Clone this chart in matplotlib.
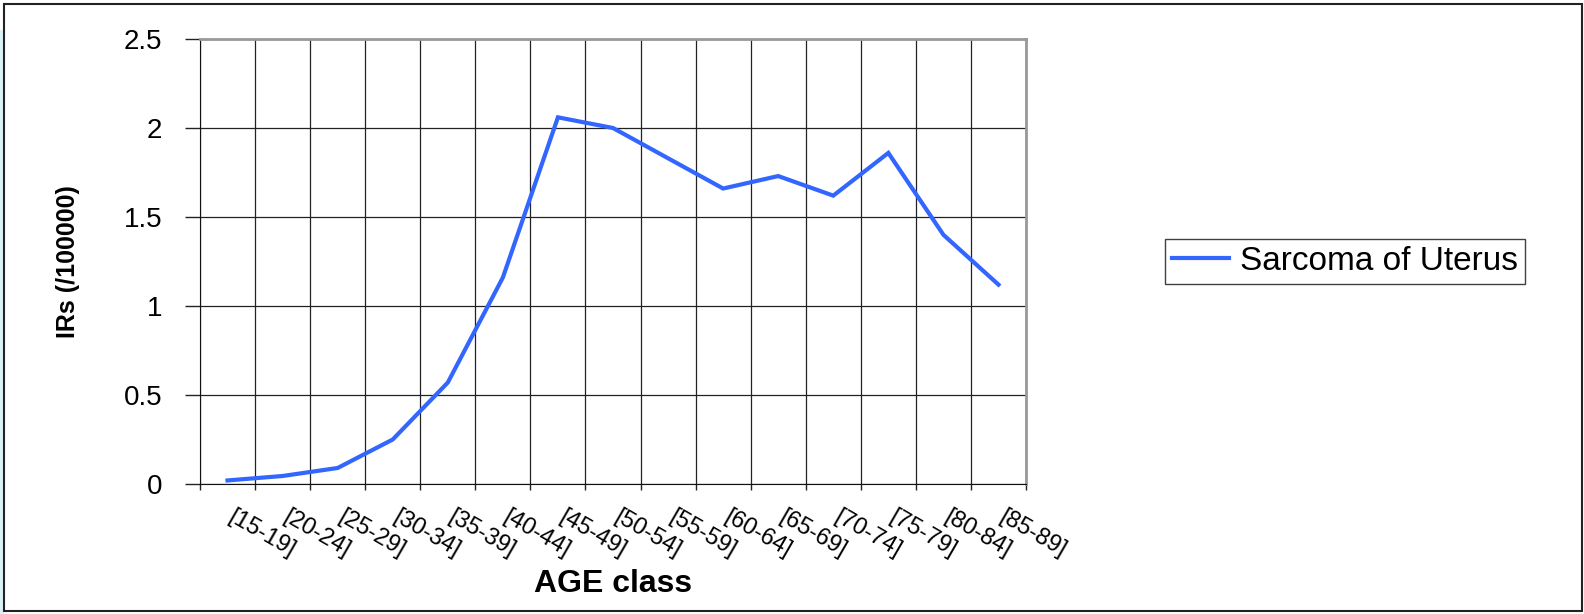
import numpy as np
import matplotlib
matplotlib.use('Agg')
import matplotlib.pyplot as plt
import matplotlib.transforms as mtransforms
from matplotlib.patches import Rectangle

# Datos
clases_edad = ['[15-19]', '[20-24]', '[25-29]', '[30-34]', '[35-39]', '[40-44]', '[45-49]', '[50-54]',
               '[55-59]', '[60-64]', '[65-69]', '[70-74]', '[75-79]', '[80-84]', '[85-89]']
tasas = [0.02, 0.045, 0.09, 0.25, 0.57, 1.16, 2.06, 2.0, 1.83, 1.66, 1.73, 1.62, 1.86, 1.40, 1.12]
serie = 'Sarcoma of Uterus'
y_ticks = [0, 0.5, 1, 1.5, 2, 2.5]
y_tick_labels = ['0', '0.5', '1', '1.5', '2', '2.5']

plt.rcParams['font.family'] = ['Liberation Sans', 'DejaVu Sans']

fig = plt.figure(figsize=(15.84, 6.14), dpi=100)
ax = fig.add_axes([200 / 1584, 1 - 484 / 614, 826 / 1584, 445 / 614])

x = np.arange(len(clases_edad))
ax.plot(x, tasas, color='#3366ff', linewidth=3, label=serie, solid_joinstyle='miter')

# Ejes
ax.set_xlim(-0.5, len(clases_edad) - 0.5)
ax.set_ylim(0, 2.5)
ax.set_yticks(y_ticks)
ax.set_yticklabels(y_tick_labels, fontsize=20)
ax.tick_params(axis='y', length=11, width=1, pad=16, color='#222222')

# Lineas de division entre clases (ticks mayores) y etiquetas en el centro (ticks menores)
ax.set_xticks(np.arange(len(clases_edad) + 1) - 0.5)
ax.set_xticklabels([])
ax.set_xticks(x, minor=True)
ax.set_xticklabels(clases_edad, minor=True, fontsize=17, rotation=-30,
                   ha='left', va='top', rotation_mode='anchor')
ax.tick_params(axis='x', which='major', length=4, width=1, color='#222222')
ax.tick_params(axis='x', which='minor', length=0, pad=16)
desplazamiento = mtransforms.ScaledTranslation(8 / 100, 0, fig.dpi_scale_trans)
for etiqueta in ax.get_xticklabels(minor=True):
    etiqueta.set_transform(etiqueta.get_transform() + desplazamiento)

ax.grid(True, which='major', color='#222222', linewidth=0.9)
ax.set_axisbelow(True)

ax.spines['left'].set_color('#111111')
ax.spines['bottom'].set_color('#111111')
for lado in ['top', 'right']:
    ax.spines[lado].set_color('#999999')
    ax.spines[lado].set_linewidth(2)

ax.set_xlabel('AGE class', fontsize=23, fontweight='bold', va='top')
ax.xaxis.set_label_coords(0.5, -0.19)
ax.set_ylabel('IRs (/100000)', fontsize=18, fontweight='bold')
ax.yaxis.set_label_coords(-0.145, 0.5)

# Leyenda
leg = fig.legend(loc='center', bbox_to_anchor=(1345 / 1584, 1 - 261.5 / 614), fontsize=24,
                 frameon=True, fancybox=False, shadow=False, handlelength=1.7,
                 handletextpad=0.35, borderpad=0.2, borderaxespad=0)
leg.get_frame().set_edgecolor('#111111')
leg.get_frame().set_linewidth(1)

# Marco de la figura
fig.patches.append(Rectangle((0, 0), 4 / 1584, 1 - 30 / 614, transform=fig.transFigure,
                             facecolor='#dcf1f7', edgecolor='none', zorder=0))
fig.patches.append(Rectangle((4 / 1584, 3 / 614), 1578 / 1584, 607 / 614, transform=fig.transFigure,
                             facecolor='none', edgecolor='#222222', linewidth=1.5, zorder=5))

fig.savefig('out.png', dpi=100)
